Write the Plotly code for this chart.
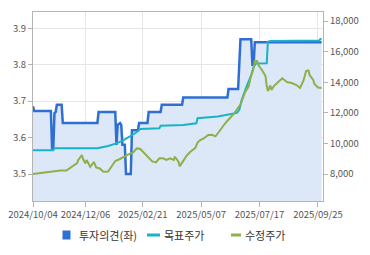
import pandas as pd
import plotly.graph_objects as go

# ---- trading calendar (KRX) used for the category-like x axis ----
holidays = ['2024-10-09', '2024-12-25', '2024-12-31', '2025-01-01', '2025-01-27',
            '2025-01-28', '2025-01-29', '2025-01-30', '2025-03-03', '2025-05-01',
            '2025-05-05', '2025-05-06', '2025-06-03', '2025-06-06', '2025-08-15']
cal = pd.bdate_range('2024-10-04', '2025-10-01')
cal = cal[~cal.isin(pd.to_datetime(holidays))]
pos = {d.strftime('%Y-%m-%d'): i for i, d in enumerate(cal)}


def X(dates):
    return [pos[d] for d in dates]


# ---- data ----
tick_dates = ['2024-10-04', '2024-12-06', '2025-02-21', '2025-05-07', '2025-07-17', '2025-09-25']
tick_text = ['2024/10/04', '2024/12/06', '2025/02/21', '2025/05/07', '2025/07/17', '2025/09/25']

opinion_dates = ['2024-10-04', '2024-10-07', '2024-10-28', '2024-10-29', '2024-10-30', '2024-10-31',
                 '2024-11-01', '2024-11-04', '2024-11-08', '2024-11-11', '2024-12-20', '2024-12-23',
                 '2025-01-15', '2025-01-16', '2025-01-17', '2025-01-21', '2025-01-22', '2025-01-23',
                 '2025-01-31', '2025-02-03', '2025-02-07', '2025-02-10', '2025-02-17', '2025-02-18',
                 '2025-02-27', '2025-02-28', '2025-03-17', '2025-03-18', '2025-04-10', '2025-04-11',
                 '2025-06-10', '2025-06-11', '2025-06-23', '2025-06-24', '2025-06-25', '2025-07-08',
                 '2025-07-09', '2025-07-10', '2025-07-11', '2025-09-30']
opinion_vals = [3.686, 3.673, 3.673, 3.57, 3.57, 3.667,
                3.67, 3.69, 3.69, 3.64, 3.64, 3.67,
                3.67, 3.58, 3.635, 3.64, 3.635, 3.58,
                3.58, 3.50, 3.50, 3.62, 3.62, 3.64,
                3.64, 3.67, 3.67, 3.69, 3.69, 3.71,
                3.71, 3.733, 3.733, 3.80, 3.87, 3.87,
                3.80, 3.80, 3.862, 3.862]

target_dates = ['2024-10-04', '2024-10-30', '2024-10-31', '2024-12-20', '2025-01-07', '2025-01-16',
                '2025-01-24', '2025-02-06', '2025-02-11', '2025-02-13', '2025-02-19', '2025-03-14',
                '2025-03-17', '2025-04-11', '2025-04-28', '2025-04-29', '2025-05-27', '2025-06-12',
                '2025-06-20', '2025-06-24', '2025-06-26', '2025-07-02', '2025-07-08', '2025-07-10',
                '2025-07-14', '2025-07-25', '2025-07-28', '2025-07-30', '2025-09-26', '2025-09-29',
                '2025-09-30']
target_vals = [9550, 9550, 9680, 9680, 9830, 10000,
               10220, 10440, 10550, 10680, 10940, 10990,
               11150, 11200, 11310, 11640, 11760, 11900,
               11990, 12200, 12840, 13700, 14470, 15000,
               15230, 15240, 16650, 16700, 16720, 16820,
               16820]

price_dates = ['2024-10-04', '2024-10-15', '2024-10-25', '2024-11-07', '2024-11-14', '2024-11-20',
               '2024-11-27', '2024-11-28', '2024-12-03', '2024-12-04', '2024-12-06', '2024-12-09',
               '2024-12-12', '2024-12-17', '2024-12-19', '2024-12-24', '2024-12-30', '2025-01-07',
               '2025-01-10', '2025-01-15', '2025-01-21', '2025-01-31', '2025-02-05', '2025-02-11',
               '2025-02-14', '2025-02-19', '2025-02-21', '2025-02-26', '2025-03-06', '2025-03-11',
               '2025-03-14', '2025-03-19', '2025-03-24', '2025-03-27', '2025-04-01', '2025-04-02',
               '2025-04-07', '2025-04-08', '2025-04-11', '2025-04-16', '2025-04-21', '2025-04-25',
               '2025-04-29', '2025-05-02', '2025-05-09', '2025-05-15', '2025-05-20', '2025-05-23',
               '2025-05-28', '2025-05-30', '2025-06-05', '2025-06-12', '2025-06-18', '2025-06-25',
               '2025-06-27', '2025-07-01', '2025-07-04', '2025-07-07', '2025-07-10', '2025-07-11',
               '2025-07-15', '2025-07-16', '2025-07-21', '2025-07-24', '2025-07-25', '2025-07-28',
               '2025-07-30', '2025-07-31', '2025-08-04', '2025-08-08', '2025-08-13', '2025-08-20',
               '2025-08-26', '2025-09-01', '2025-09-04', '2025-09-09', '2025-09-11', '2025-09-15',
               '2025-09-16', '2025-09-19', '2025-09-22', '2025-09-25', '2025-09-30']
price_vals = [8000, 8065, 8160, 8230, 8230, 8425,
              8720, 8915, 9240, 8980, 8690, 8915,
              8460, 8785, 8425, 8360, 8150, 8165,
              8525, 8850, 8980, 9175, 9275, 9405,
              9670, 9635, 9470, 9240, 8820, 8760,
              9030, 9025, 8915, 9025, 8915, 9130,
              8800, 8500, 8850, 9210, 9450, 9690,
              10050, 10200, 10320, 10550, 10560, 10460,
              10760, 11000, 11300, 11640, 11990, 12540,
              12965, 13360, 13750, 14145, 14930, 15385,
              15385, 15125, 14800, 14405, 13750, 13425,
              13785, 13490, 13750, 14015, 14255, 14015,
              13950, 13815, 13620, 14145, 14730, 14765,
              14470, 14145, 13880, 13655, 13620]

legend_names = ['투자의견(좌)', '목표주가', '수정주가']

BLUE = '#2f6fd3'
CYAN = '#17b3c7'
GREEN = '#8db04a'
FILL = '#dce7f7'
FONT = 'Noto Sans CJK KR, sans-serif'
AX = '#b4b4b4'
GRID = '#e6e6e6'

W, H = 370, 255
ML, MR, MT, MB = 33, 47, 12, 54
PW, PH = W - ML - MR, H - MT - MB


def px_x(px):
    return (px - ML) / PW


def px_y(py):
    return (H - MB - py) / PH


fig = go.Figure()
fig.add_trace(go.Scatter(x=X(opinion_dates), y=opinion_vals, mode='lines', name=legend_names[0],
                         line=dict(color=BLUE, width=2.5), fill='tozeroy', fillcolor=FILL,
                         showlegend=False))
fig.add_trace(go.Scatter(x=X(target_dates), y=target_vals, mode='lines', yaxis='y2',
                         name=legend_names[1], line=dict(color=CYAN, width=2), showlegend=False))
fig.add_trace(go.Scatter(x=X(price_dates), y=price_vals, mode='lines', yaxis='y2',
                         name=legend_names[2], line=dict(color=GREEN, width=2), showlegend=False))

# hand-placed legend (matching the reference's compact symbol/text spacing)
LY = 235
shapes = [
    dict(type='rect', xref='paper', yref='paper', x0=px_x(62.5), x1=px_x(70.5),
         y0=px_y(LY + 4.5), y1=px_y(LY - 4.5), fillcolor=BLUE, line=dict(width=0)),
    dict(type='line', xref='paper', yref='paper', x0=px_x(147), x1=px_x(160),
         y0=px_y(LY), y1=px_y(LY), line=dict(color=CYAN, width=3)),
    dict(type='line', xref='paper', yref='paper', x0=px_x(231), x1=px_x(241),
         y0=px_y(LY), y1=px_y(LY), line=dict(color=GREEN, width=3)),
]
annotations = [
    dict(xref='paper', yref='paper', x=px_x(tx), y=px_y(LY), text=name, showarrow=False,
         xanchor='left', yanchor='middle', font=dict(family=FONT, size=11, color='#333333'))
    for tx, name in zip([76.5, 161.5, 243], legend_names)
]

TICKFONT = dict(family=FONT, size=9.5, color='#555555')
fig.update_layout(
    width=W, height=H,
    margin=dict(l=ML, r=MR, t=MT, b=MB, autoexpand=False),
    paper_bgcolor='white', plot_bgcolor='white',
    font=dict(family=FONT, size=10, color='#555555'),
    showlegend=False,
    shapes=shapes, annotations=annotations,
    xaxis=dict(range=[0, 243.2], tickvals=X(tick_dates), ticktext=tick_text, tickangle=0,
               automargin=False,
               showgrid=True, gridcolor=GRID, zeroline=False,
               showline=True, linecolor=AX, mirror=True,
               ticks='outside', ticklen=5, tickcolor=AX, tickfont=TICKFONT),
    yaxis=dict(range=[3.4259, 3.9447], tickvals=[3.5, 3.6, 3.7, 3.8, 3.9],
               ticktext=['3.5', '3.6', '3.7', '3.8', '3.9'], automargin=False,
               showgrid=True, gridcolor=GRID, zeroline=False,
               showline=True, linecolor=AX, mirror=True,
               ticks='outside', ticklen=4, tickcolor=AX, tickfont=TICKFONT),
    yaxis2=dict(overlaying='y', side='right', range=[6235, 18588], automargin=False,
                tickvals=[8000, 10000, 12000, 14000, 16000, 18000],
                ticktext=['8,000', '10,000', '12,000', '14,000', '16,000', '18,000'],
                showgrid=False, zeroline=False, showline=False,
                ticks='outside', ticklen=4, tickcolor=AX, tickfont=TICKFONT),
)

fig.write_html('out.html')
